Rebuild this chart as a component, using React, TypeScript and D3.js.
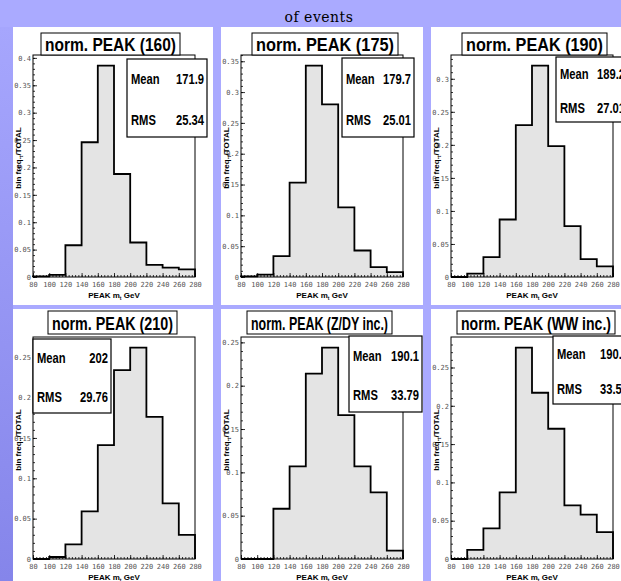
import React, { useRef, useEffect } from 'react';
import * as d3 from 'd3';

// bin edges of every histogram (GeV), also the x tick labels
const binEdges = [80, 100, 120, 140, 160, 180, 200, 220, 240, 260, 280];
const yTickValues = [0, 0.05, 0.1, 0.15, 0.2, 0.25, 0.3, 0.35, 0.4];

// normalised bin contents
const peak160 = [0.001, 0.004, 0.058, 0.246, 0.386, 0.188, 0.063, 0.022, 0.017, 0.014];
const peak175 = [0.001, 0.004, 0.034, 0.153, 0.343, 0.28, 0.113, 0.043, 0.016, 0.008];
const peak190 = [0.0, 0.005, 0.03, 0.087, 0.23, 0.32, 0.198, 0.077, 0.027, 0.016];
const peak210 = [0.0, 0.0025, 0.018, 0.059, 0.141, 0.234, 0.262, 0.176, 0.069, 0.03];
const peakZDY = [0.0, 0.0, 0.058, 0.107, 0.214, 0.244, 0.166, 0.107, 0.077, 0.0096];
const peakWW = [0.0, 0.012, 0.04, 0.087, 0.276, 0.217, 0.17, 0.07, 0.058, 0.035];

const titles = ['norm. PEAK (160)', 'norm. PEAK (175)', 'norm. PEAK (190)', 'norm. PEAK (210)', 'norm. PEAK (Z/DY inc.)', 'norm. PEAK (WW inc.)'];
const means = ['171.9', '179.7', '189.2', '202', '190.1', '190.4'];
const rmsValues = ['25.34', '25.01', '27.01', '29.76', '33.79', '33.52'];
const series = [peak160, peak175, peak190, peak210, peakZDY, peakWW];

// page layout (pixels)
const colX = [13, 221, 431];
const colW = [200, 202, 200];
const rowY = [27, 309];
const rowH = [278, 300];
const titleY = [33, 311];
const titleH = [22, 23];
const titleBoxes = [[41, 139], [252, 146], [462, 145], [48, 129], [247, 145], [457, 158]];
const statBoxes = [[127, 59, 80, 78], [342, 58, 72, 79], [556, 57, 72, 65], [33, 339, 78, 74], [349, 336, 73, 76], [553, 336, 78, 68]];

const W = 621;
const H = 581;

const App = () => {
  const svgRef = useRef<SVGSVGElement>(null);

  useEffect(() => {
    document.body.style.margin = '0';
    const svg = d3.select(svgRef.current);
    svg.selectAll('*').remove();

    const defs = svg.append('defs');
    const grad = defs.append('linearGradient').attr('id', 'leftStrip').attr('x1', 0).attr('y1', 0).attr('x2', 0).attr('y2', 1);
    grad.append('stop').attr('offset', '0%').attr('stop-color', '#a6a6fd');
    grad.append('stop').attr('offset', '100%').attr('stop-color', '#8585ea');

    svg.append('rect').attr('width', W).attr('height', H).attr('fill', '#aaaaff');
    svg.append('rect').attr('x', 0).attr('y', 27).attr('width', 13).attr('height', H - 27).attr('fill', 'url(#leftStrip)');

    svg.append('text')
      .attr('x', 319)
      .attr('y', 22)
      .attr('text-anchor', 'middle')
      .style('font-family', '"DejaVu Serif", serif')
      .style('font-size', '14px')
      .style('letter-spacing', '0.5px')
      .text('of events');

    series.forEach((values, i) => {
      const col = i % 3;
      const row = Math.floor(i / 3);
      const px = colX[col];
      const py = rowY[row];

      svg.append('rect')
        .attr('x', px).attr('y', py)
        .attr('width', colW[col]).attr('height', rowH[row])
        .attr('fill', 'white');

      const fx = px + 20;
      const fy = py + 28;
      const fw = 162;
      const fh = 222;
      const ymax = d3.max(values) * 1.05;

      const x = d3.scaleLinear().domain([80, 280]).range([fx, fx + fw]);
      const y = d3.scaleLinear().domain([0, ymax]).range([fy + fh, fy]);

      const g = svg.append('g');

      // step outline points
      const pts = [{ e: binEdges[0], v: 0 }]
        .concat(values.map((v, k) => ({ e: binEdges[k], v })))
        .concat([{ e: binEdges[binEdges.length - 1], v: values[values.length - 1] }, { e: binEdges[binEdges.length - 1], v: 0 }]);

      const area = d3.area<any>()
        .x(d => x(d.e))
        .y0(y(0))
        .y1(d => y(d.v))
        .curve(d3.curveStepAfter);
      const line = d3.line<any>()
        .x(d => x(d.e))
        .y(d => y(d.v))
        .curve(d3.curveStepAfter);

      g.append('path').attr('d', area(pts)).attr('fill', '#e4e4e4');

      // axes (ticks point inside the frame)
      const tickStyle = (sel: any) => {
        sel.select('.domain').remove();
        sel.selectAll('line').attr('stroke', 'black').attr('stroke-width', 0.8);
        sel.selectAll('text')
          .style('font-family', '"DejaVu Sans Mono", monospace')
          .style('font-size', '7px')
          .attr('fill', '#555');
      };

      g.append('g')
        .attr('transform', `translate(0,${fy + fh})`)
        .call(d3.axisBottom(x).tickValues(d3.range(80, 281, 4)).tickSize(-2).tickFormat(() => ''))
        .call(tickStyle);
      g.append('g')
        .attr('transform', `translate(0,${fy + fh})`)
        .call(d3.axisBottom(x).tickValues(binEdges).tickSize(-4).tickPadding(5).tickFormat(d3.format('d')))
        .call(tickStyle);

      g.append('g')
        .attr('transform', `translate(${fx},0)`)
        .call(d3.axisLeft(y).tickValues(d3.range(0, ymax, 0.01)).tickSize(-2).tickFormat(() => ''))
        .call(tickStyle);
      g.append('g')
        .attr('transform', `translate(${fx},0)`)
        .call(d3.axisLeft(y).tickValues(yTickValues.filter(v => v <= ymax)).tickSize(-4).tickPadding(2).tickFormat(d => String(d)))
        .call(tickStyle);

      g.append('path')
        .attr('d', line(pts))
        .attr('fill', 'none')
        .attr('stroke', 'black')
        .attr('stroke-width', 1.8);

      g.append('rect')
        .attr('x', fx).attr('y', fy)
        .attr('width', fw).attr('height', fh)
        .attr('fill', 'none')
        .attr('stroke', 'black')
        .attr('stroke-width', 1);

      // axis titles
      const xt = g.append('text')
        .attr('x', fx + fw / 2)
        .attr('y', fy + fh + 21)
        .attr('text-anchor', 'middle')
        .style('font-family', '"Liberation Sans", Arial, sans-serif')
        .style('font-weight', 'bold')
        .style('font-size', '8px');
      xt.append('tspan').text('PEAK m');
      xt.append('tspan').attr('dy', 2).style('font-size', '5px').text('t');
      xt.append('tspan').attr('dy', -2).text(' GeV');

      const yt = g.append('text')
        .attr('transform', `translate(${fx - 12},${fy + fh / 2 - 8}) rotate(-90)`)
        .attr('text-anchor', 'middle')
        .style('font-family', '"Liberation Sans", Arial, sans-serif')
        .style('font-weight', 'bold')
        .style('font-size', '8px');
      yt.append('tspan').text('bin freq.');
      yt.append('tspan').attr('dy', 2).style('font-size', '5px').text('t');
      yt.append('tspan').attr('dy', -2).text('/TOTAL');

      // title box
      const [tx, tw] = titleBoxes[i];
      const ty = titleY[row];
      const th = titleH[row];
      g.append('rect')
        .attr('x', tx).attr('y', ty)
        .attr('width', tw).attr('height', th)
        .attr('fill', 'white')
        .attr('stroke', 'black')
        .attr('stroke-width', 1);
      g.append('text')
        .attr('x', tx + tw / 2)
        .attr('y', ty + th - 4)
        .attr('text-anchor', 'middle')
        .attr('textLength', tw - 8)
        .attr('lengthAdjust', 'spacingAndGlyphs')
        .style('font-family', '"Liberation Sans", Arial, sans-serif')
        .style('font-weight', 'bold')
        .style('font-size', '19px')
        .text(titles[i]);

      // stats box
      const [sx, sy, sw, sh] = statBoxes[i];
      g.append('rect')
        .attr('x', sx).attr('y', sy)
        .attr('width', sw).attr('height', sh)
        .attr('fill', 'white')
        .attr('stroke', 'black')
        .attr('stroke-width', 1.2);
      const statRows = [['Mean', means[i], 0.26], ['RMS', rmsValues[i], 0.78]];
      statRows.forEach(([label, val, f]) => {
        const by = sy + sh * (f as number) + 5;
        g.append('text')
          .attr('transform', `translate(${sx + 4},${by}) scale(0.8,1)`)
          .style('font-family', '"Liberation Sans", Arial, sans-serif')
          .style('font-weight', 'bold')
          .style('font-size', '14px')
          .text(label as string);
        g.append('text')
          .attr('transform', `translate(${sx + sw - 3},${by}) scale(0.8,1)`)
          .attr('text-anchor', 'end')
          .style('font-family', '"Liberation Sans", Arial, sans-serif')
          .style('font-weight', 'bold')
          .style('font-size', '14px')
          .text(val as string);
      });
    });
  }, []);

  return (
    <svg
      ref={svgRef}
      width={W}
      height={H}
      style={{ display: 'block', overflow: 'hidden' }}
    ></svg>
  );
};

export default App;
